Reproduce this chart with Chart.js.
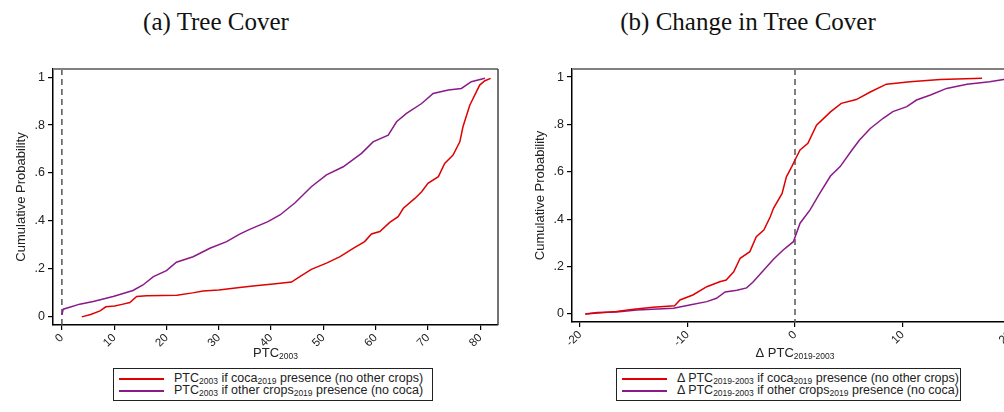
<!DOCTYPE html>
<html>
<head>
<meta charset="utf-8">
<script src="https://cdn.jsdelivr.net/npm/chart.js@4.4.0/dist/chart.umd.min.js"></script>
<style>
  body { margin: 0; width: 1004px; height: 412px; overflow: hidden; background: #fff; position: relative;
         font-family: "Liberation Sans", Arial, sans-serif; color: #222; }
  .title { position: absolute; top: 8px; font-family: "Liberation Serif", serif; font-size: 25px; color: #111;
           white-space: nowrap; transform: translateX(-50%); }
  .panel { position: absolute; top: 60px; width: 510px; height: 300px; }
  .legend { position: absolute; top: 368px; height: 33px; border: 1px solid #222; box-sizing: border-box;
            font-size: 12.5px; padding-top: 3px; }
  .row { height: 12px; line-height: 12px; white-space: nowrap; position: relative; padding-left: 60px; }
  .swatch { position: absolute; left: 5px; top: 6px; width: 45px; height: 1.5px; }
  sub { font-size: 8.5px; vertical-align: -2px; line-height: 0; }
</style>
</head>
<body>
<div class="title" style="left:216px">(a) Tree Cover</div>
<div class="title" style="left:748px">(b) Change in Tree Cover</div>

<div class="panel" style="left:0px"><canvas id="treeChart" width="510" height="300"></canvas></div>
<div class="panel" style="left:520px"><canvas id="changeChart" width="510" height="300"></canvas></div>

<div class="legend" style="left:113px; width:320px">
  <div class="row"><span class="swatch" style="background:#e00000"></span>PTC<sub>2003</sub> if coca<sub>2019</sub> presence (no other crops)</div>
  <div class="row"><span class="swatch" style="background:#8a1a8a"></span>PTC<sub>2003</sub> if other crops<sub>2019</sub> presence (no coca)</div>
</div>
<div class="legend" style="left:616px; width:345px">
  <div class="row"><span class="swatch" style="background:#e00000"></span>&Delta; PTC<sub>2019-2003</sub> if coca<sub>2019</sub> presence (no other crops)</div>
  <div class="row"><span class="swatch" style="background:#8a1a8a"></span>&Delta; PTC<sub>2019-2003</sub> if other crops<sub>2019</sub> presence (no coca)</div>
</div>

<script>
// Panel (a): cumulative distribution of tree cover in 2003
const cocaTreeX = [3.8, 5.5, 7.3, 8.4, 10.1, 11.5, 13.0, 14.3, 16.2, 22.0, 25.0, 27.0, 30.0, 34.0, 37.0, 40.4, 43.9, 45.5, 47.7, 50.6, 53.2, 55.7, 57.9, 59.2, 60.8, 62.7, 64.3, 65.3, 67.5, 68.8, 70.0, 72.0, 73.2, 74.8, 76.1, 76.7, 78.0, 79.9, 80.9, 82.0];
const cocaTreeY = [0.0, 0.01, 0.025, 0.042, 0.045, 0.052, 0.06, 0.085, 0.088, 0.09, 0.1, 0.108, 0.112, 0.122, 0.13, 0.137, 0.145, 0.168, 0.198, 0.224, 0.251, 0.286, 0.314, 0.346, 0.356, 0.394, 0.418, 0.453, 0.494, 0.522, 0.557, 0.585, 0.640, 0.675, 0.730, 0.793, 0.883, 0.967, 0.985, 0.995];
const otherTreeX = [0, 0.25, 1.5, 3.4, 6.0, 9.8, 13.6, 15.5, 17.5, 20.0, 21.9, 25.1, 28.3, 31.5, 34.0, 35.9, 39.4, 41.7, 44.6, 47.7, 50.6, 53.8, 57.3, 59.5, 62.4, 64.0, 65.9, 68.8, 71.0, 73.9, 76.4, 78.3, 80.9];
const otherTreeY = [0.008, 0.032, 0.04, 0.053, 0.064, 0.085, 0.11, 0.133, 0.168, 0.193, 0.228, 0.251, 0.286, 0.314, 0.345, 0.365, 0.397, 0.425, 0.476, 0.543, 0.592, 0.626, 0.682, 0.730, 0.758, 0.814, 0.849, 0.890, 0.932, 0.946, 0.953, 0.981, 0.995];

// Panel (b): cumulative distribution of change in tree cover 2019-2003
const cocaChangeX = [-19.5, -16.6, -15.0, -13.2, -11.2, -10.7, -9.5, -8.2, -7.0, -6.4, -5.7, -5.1, -4.2, -3.6, -2.9, -2.3, -2.0, -1.2, -0.8, -0.3, 0.0, 0.47, 1.2, 2.0, 2.5, 3.3, 4.3, 5.7, 7.0, 8.5, 10.7, 13.5, 17.4];
const cocaChangeY = [0.0, 0.01, 0.02, 0.028, 0.035, 0.059, 0.08, 0.115, 0.136, 0.143, 0.178, 0.235, 0.263, 0.326, 0.354, 0.41, 0.446, 0.509, 0.579, 0.622, 0.65, 0.692, 0.72, 0.797, 0.818, 0.853, 0.889, 0.905, 0.937, 0.970, 0.98, 0.99, 0.995];
const otherChangeX = [-19.5, -18.4, -16.6, -14.7, -11.3, -9.8, -8.2, -7.3, -6.5, -5.4, -4.5, -3.9, -2.9, -2.0, -1.1, -0.15, 0.47, 1.4, 2.3, 3.3, 4.2, 5.3, 6.0, 7.0, 8.2, 9.1, 10.4, 11.3, 12.6, 14.1, 16.0, 18.1, 19.4, 21.0];
const otherChangeY = [0.0, 0.006, 0.008, 0.017, 0.024, 0.038, 0.052, 0.066, 0.093, 0.1, 0.11, 0.135, 0.185, 0.231, 0.27, 0.305, 0.383, 0.439, 0.509, 0.582, 0.622, 0.692, 0.734, 0.783, 0.826, 0.854, 0.875, 0.903, 0.924, 0.952, 0.970, 0.98, 0.99, 1.0];

// Tick values and labels
const yTickValues = [0, 0.2, 0.4, 0.6, 0.8, 1];
const yTickLabels = ['0', '.2', '.4', '.6', '.8', '1'];
const treeTickValues = [0, 10, 20, 30, 40, 50, 60, 70, 80];
const treeTickLabels = ['0', '10', '20', '30', '40', '50', '60', '70', '80'];
const changeTickValues = [-20, -10, 0, 10, 20];
const changeTickLabels = ['-20', '-10', '0', '10', '20'];

const cocaColor = '#e00000';
const otherColor = '#8a1a8a';

function toPoints(xs, ys) {
    return xs.map((x, i) => ({ x: x, y: ys[i] }));
}

function lineSet(label, xs, ys, color) {
    return {
        label: label,
        data: toPoints(xs, ys),
        showLine: true,
        borderColor: color,
        backgroundColor: color,
        borderWidth: 1.5,
        pointRadius: 0,
        tension: 0
    };
}

// Draws the zero line, the frame and the axis titles (titles need subscripts)
const panelDecor = {
    id: 'panelDecor',
    beforeDatasetsDraw(chart) {
        const { ctx, chartArea: a, scales } = chart;
        const x0 = scales.x.getPixelForValue(0);
        ctx.save();
        ctx.strokeStyle = '#555';
        ctx.lineWidth = 1.5;
        ctx.setLineDash([6, 4]);
        ctx.beginPath();
        ctx.moveTo(x0, a.top);
        ctx.lineTo(x0, a.bottom);
        ctx.stroke();
        ctx.restore();
    },
    afterDraw(chart, args, opts) {
        const { ctx, chartArea: a } = chart;
        ctx.save();
        // top and right frame
        ctx.strokeStyle = '#808080';
        ctx.lineWidth = 2;
        ctx.beginPath();
        ctx.moveTo(a.left, a.top);
        ctx.lineTo(a.right, a.top);
        ctx.stroke();
        ctx.strokeStyle = '#444';
        ctx.lineWidth = 1.5;
        ctx.beginPath();
        ctx.moveTo(a.right, a.top);
        ctx.lineTo(a.right, a.bottom);
        ctx.stroke();

        ctx.fillStyle = '#222';
        // x title with subscript
        const mainFont = '13px "Liberation Sans", Arial, sans-serif';
        const subFont = '8.5px "Liberation Sans", Arial, sans-serif';
        let total = 0;
        opts.xTitle.forEach(seg => {
            ctx.font = seg.sub ? subFont : mainFont;
            seg.w = ctx.measureText(seg.t).width;
            total += seg.w;
        });
        let x = (a.left + a.right) / 2 - total / 2;
        const base = 297;
        ctx.textAlign = 'left';
        ctx.textBaseline = 'alphabetic';
        opts.xTitle.forEach(seg => {
            ctx.font = seg.sub ? subFont : mainFont;
            ctx.fillText(seg.t, x, seg.sub ? base + 2 : base);
            x += seg.w;
        });

        // y title
        ctx.translate(opts.yTitleX, (a.top + a.bottom) / 2);
        ctx.rotate(-Math.PI / 2);
        ctx.font = mainFont;
        ctx.textAlign = 'center';
        ctx.textBaseline = 'middle';
        ctx.fillText('Cumulative Probability', 0, 0);
        ctx.restore();
    }
};

function makeOptions(xMin, xMax, xTicks, xLabels, yWidth, xHeight, xTitle, yTitleX) {
    const tickFont = { family: '"Liberation Sans", Arial, sans-serif', size: 11.5 };
    return {
        responsive: false,
        animation: false,
        layout: { padding: { left: 0, top: 9, right: 12, bottom: 0 } },
        plugins: {
            legend: { display: false },
            title: { display: false },
            tooltip: { enabled: false },
            panelDecor: { xTitle: xTitle, yTitleX: yTitleX }
        },
        scales: {
            x: {
                type: 'linear',
                min: xMin,
                max: xMax,
                afterBuildTicks: scale => { scale.ticks = xTicks.map(v => ({ value: v })); },
                afterFit: scale => { scale.height = xHeight; scale.paddingLeft = 0; scale.paddingRight = 0; },
                ticks: {
                    autoSkip: false,
                    minRotation: 45,
                    maxRotation: 45,
                    padding: 1,
                    color: '#222',
                    font: tickFont,
                    callback: (v, i) => xLabels[i]
                },
                grid: { drawOnChartArea: false, drawTicks: true, tickLength: 5, color: '#000', lineWidth: 1.2 },
                border: { display: true, color: '#000', width: 1.5 }
            },
            y: {
                type: 'linear',
                min: -0.034,
                max: 1.034,
                afterBuildTicks: scale => { scale.ticks = yTickValues.map(v => ({ value: v })); },
                afterFit: scale => { scale.width = yWidth; scale.paddingTop = 0; scale.paddingBottom = 0; },
                ticks: {
                    padding: 3,
                    color: '#222',
                    font: { family: '"Liberation Sans", Arial, sans-serif', size: 12.5 },
                    callback: (v, i) => yTickLabels[i]
                },
                grid: { drawOnChartArea: false, drawTicks: true, tickLength: 5, color: '#000', lineWidth: 1.2 },
                border: { display: true, color: '#000', width: 1.5 }
            }
        }
    };
}

document.addEventListener('DOMContentLoaded', function () {
    new Chart(document.getElementById('treeChart').getContext('2d'), {
        type: 'scatter',
        data: {
            datasets: [
                lineSet('PTC2003 if coca2019 presence (no other crops)', cocaTreeX, cocaTreeY, cocaColor),
                lineSet('PTC2003 if other crops2019 presence (no coca)', otherTreeX, otherTreeY, otherColor)
            ]
        },
        options: makeOptions(-1.7, 83.4, treeTickValues, treeTickLabels, 53, 35,
            [{ t: 'PTC' }, { t: '2003', sub: true }], 21),
        plugins: [panelDecor]
    });

    new Chart(document.getElementById('changeChart').getContext('2d'), {
        type: 'scatter',
        data: {
            datasets: [
                lineSet('Δ PTC2019-2003 if coca2019 presence (no other crops)', cocaChangeX, cocaChangeY, cocaColor),
                lineSet('Δ PTC2019-2003 if other crops2019 presence (no coca)', otherChangeX, otherChangeY, otherColor)
            ]
        },
        options: makeOptions(-20.74, 20.74, changeTickValues, changeTickLabels, 52, 38,
            [{ t: 'Δ PTC' }, { t: '2019-2003', sub: true }], 20),
        plugins: [panelDecor]
    });
});
</script>
</body>
</html>
